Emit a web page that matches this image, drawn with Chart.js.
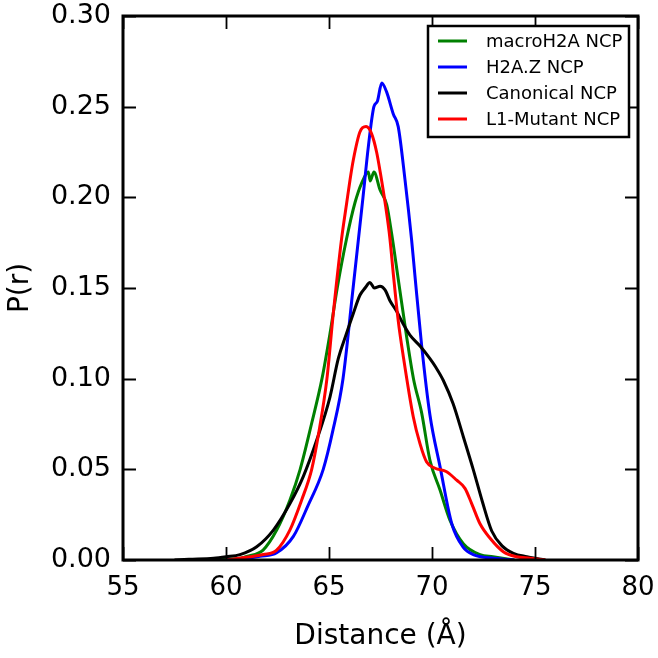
<!DOCTYPE html>
<html>
<head>
<meta charset="utf-8">
<script src="https://cdn.jsdelivr.net/npm/chart.js@4.4.1/dist/chart.umd.min.js"></script>
<style>
  html, body { margin: 0; padding: 0; background: #fff; }
  #wrap { width: 658px; height: 658px; }
</style>
</head>
<body>
<div id="wrap"><canvas id="chart" width="658" height="658"></canvas></div>
<script>
// distance (A) / P(r) pairs
const macroX = [59, 60, 60.7, 61.0, 61.8, 62.46, 63.1, 63.6, 64.15, 64.66, 65.05, 65.4, 65.85, 66.26, 66.59, 66.91, 67.0, 67.18, 67.48, 67.8, 68.04, 68.36, 68.77, 69.1, 69.5, 69.9, 70.39, 70.87, 71.52, 72.33, 72.96, 74];
const macroY = [0, 0.0005, 0.001, 0.002, 0.0055, 0.0165, 0.033, 0.050, 0.075, 0.100, 0.125, 0.150, 0.177, 0.197, 0.208, 0.214, 0.209, 0.214, 0.204, 0.196, 0.180, 0.155, 0.123, 0.100, 0.081, 0.055, 0.0386, 0.022, 0.009, 0.003, 0.0018, 0];

const h2azX = [60, 61, 61.65, 62.46, 63.27, 63.98, 64.72, 65.2, 65.68, 66.17, 66.65, 66.91, 67.18, 67.35, 67.56, 67.8, 68.12, 68.36, 68.69, 69.01, 69.17, 69.5, 69.9, 70.39, 70.96, 71.52, 72.0, 73, 74];
const h2azY = [0, 0.0008, 0.002, 0.004, 0.013, 0.030, 0.050, 0.072, 0.100, 0.150, 0.200, 0.228, 0.250, 0.253, 0.263, 0.258, 0.246, 0.239, 0.2096, 0.1765, 0.157, 0.118, 0.080, 0.0515, 0.020, 0.007, 0.003, 0.001, 0];

const canonX = [57.5, 58.2, 59.4, 60.0, 60.68, 61.49, 62.3, 63.1, 63.75, 64.4, 65.05, 65.45, 65.82, 66.18, 66.5, 66.75, 66.99, 67.2, 67.48, 67.72, 67.96, 68.29, 68.61, 68.93, 69.42, 69.9, 70.2, 70.55, 71.03, 71.52, 72.0, 72.45, 72.9, 73.4, 73.95, 74.6, 75.5];
const canonY = [0, 0.0004, 0.001, 0.0018, 0.003, 0.0073, 0.0165, 0.031, 0.046, 0.066, 0.090, 0.111, 0.124, 0.136, 0.146, 0.150, 0.153, 0.150, 0.151, 0.149, 0.143, 0.137, 0.130, 0.124, 0.118, 0.111, 0.106, 0.099, 0.086, 0.068, 0.050, 0.032, 0.016, 0.0078, 0.0037, 0.0018, 0];

const l1X = [60, 61.0, 61.81, 62.46, 63.1, 63.67, 64.16, 64.5, 64.9, 65.2, 65.61, 65.86, 66.02, 66.18, 66.5, 66.8, 67.07, 67.31, 67.5, 67.75, 67.95, 68.12, 68.36, 68.61, 69.09, 69.42, 69.74, 70.15, 70.71, 71.2, 71.6, 71.93, 72.33, 72.82, 73.46, 74.1, 74.76, 75.5];
const l1Y = [0, 0.0015, 0.003, 0.0055, 0.0165, 0.033, 0.050, 0.070, 0.100, 0.135, 0.177, 0.197, 0.2096, 0.2206, 0.236, 0.239, 0.235, 0.225, 0.213, 0.195, 0.178, 0.158, 0.132, 0.112, 0.079, 0.064, 0.054, 0.0506, 0.0487, 0.044, 0.0395, 0.031, 0.020, 0.012, 0.0046, 0.0018, 0.001, 0];

const seriesNames = ['macroH2A NCP', 'H2A.Z NCP', 'Canonical NCP', 'L1-Mutant NCP'];
const seriesColors = ['#008000', '#0000ff', '#000000', '#ff0000'];
const xTicks = [55, 60, 65, 70, 75, 80];
const yTicks = [0, 0.05, 0.10, 0.15, 0.20, 0.25, 0.30];

function pts(xs, ys) {
    return xs.map((x, i) => ({ x: x, y: ys[i] }));
}

const FONT = 'DejaVu Sans';

// matplotlib-style frame, inward ticks on all four sides, boxed legend
const framePlugin = {
    id: 'frame',
    afterDatasetsDraw(chart) {
        const ctx = chart.ctx;
        const a = chart.chartArea;
        const xs = chart.scales.x, ys = chart.scales.y;
        const tl = 13;
        ctx.save();
        ctx.strokeStyle = '#000';
        ctx.lineWidth = 1.8;
        ctx.beginPath();
        xTicks.forEach(v => {
            const px = Math.round(xs.getPixelForValue(v)) + 0.5;
            ctx.moveTo(px, a.bottom); ctx.lineTo(px, a.bottom - tl);
            ctx.moveTo(px, a.top); ctx.lineTo(px, a.top + tl);
        });
        yTicks.forEach(v => {
            const py = Math.round(ys.getPixelForValue(v)) + 0.5;
            ctx.moveTo(a.left, py); ctx.lineTo(a.left + tl, py);
            ctx.moveTo(a.right, py); ctx.lineTo(a.right - tl, py);
        });
        ctx.stroke();
        ctx.lineWidth = 3;
        ctx.strokeRect(a.left, a.top, a.right - a.left, a.bottom - a.top);

        // legend
        const bx = a.right - 210, by = a.top + 10, bw = 201, bh = 111;
        ctx.fillStyle = '#fff';
        ctx.fillRect(bx, by, bw, bh);
        ctx.lineWidth = 2.5;
        ctx.strokeRect(bx, by, bw, bh);
        ctx.font = '18px "' + FONT + '"';
        ctx.textBaseline = 'middle';
        ctx.textAlign = 'left';
        seriesNames.forEach((name, i) => {
            const ry = by + 15 + i * 26;
            ctx.strokeStyle = seriesColors[i];
            ctx.lineWidth = 3;
            ctx.beginPath();
            ctx.moveTo(bx + 10, ry);
            ctx.lineTo(bx + 39, ry);
            ctx.stroke();
            ctx.fillStyle = '#000';
            ctx.fillText(name, bx + 58, ry + 1);
        });
        ctx.restore();
    }
};

const allX = [macroX, h2azX, canonX, l1X];
const allY = [macroY, h2azY, canonY, l1Y];
const drawOrder = [4, 3, 2, 1];

const datasets = seriesNames.map((name, i) => ({
    label: name,
    data: pts(allX[i], allY[i]),
    borderColor: seriesColors[i],
    backgroundColor: seriesColors[i],
    borderWidth: 3,
    pointRadius: 0,
    fill: false,
    cubicInterpolationMode: 'monotone',
    order: drawOrder[i]
}));

new Chart(document.getElementById('chart'), {
    type: 'line',
    data: { datasets: datasets },
    options: {
        responsive: false,
        animation: false,
        events: [],
        layout: { padding: { top: 16, right: 20, left: 0, bottom: 0 } },
        plugins: {
            legend: { display: false },
            tooltip: { enabled: false }
        },
        scales: {
            x: {
                type: 'linear',
                min: 55,
                max: 80,
                afterFit: s => { s.height = 98; s.paddingLeft = 0; s.paddingRight = 0; },
                afterBuildTicks: s => { s.ticks = xTicks.map(v => ({ value: v })); },
                ticks: {
                    color: '#000',
                    font: { family: FONT, size: 26 },
                    padding: 13,
                    maxRotation: 0,
                    callback: v => String(v)
                },
                grid: { display: false, drawTicks: false },
                border: { display: false },
                title: {
                    display: true,
                    text: 'Distance (Å)',
                    color: '#000',
                    font: { family: FONT, size: 28 },
                    padding: { top: 0, bottom: 4 }
                }
            },
            y: {
                type: 'linear',
                min: 0,
                max: 0.30,
                afterFit: s => { s.width = 123; s.paddingTop = 0; s.paddingBottom = 0; },
                afterBuildTicks: s => { s.ticks = yTicks.map(v => ({ value: v })); },
                ticks: {
                    color: '#000',
                    font: { family: FONT, size: 27 },
                    padding: 12,
                    callback: v => Number(v).toFixed(2)
                },
                grid: { display: false, drawTicks: false },
                border: { display: false },
                title: {
                    display: true,
                    text: 'P(r)',
                    color: '#000',
                    font: { family: FONT, size: 28 },
                    padding: { top: 4, bottom: 0 }
                }
            }
        }
    },
    plugins: [framePlugin]
});
</script>
</body>
</html>
